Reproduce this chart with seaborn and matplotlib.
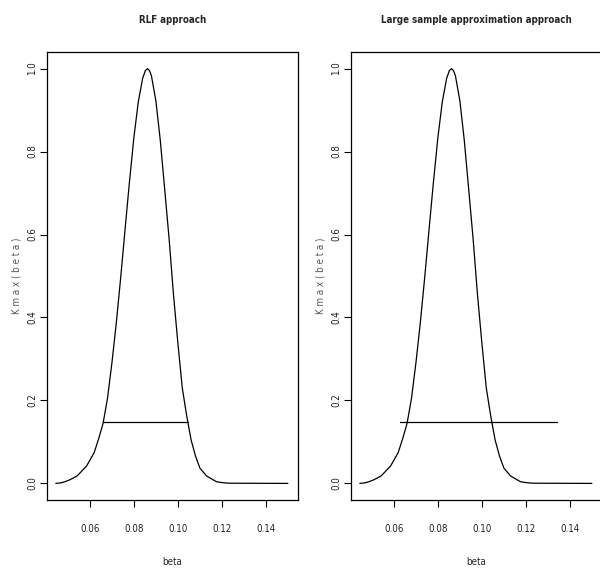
import matplotlib
matplotlib.use("Agg")
import matplotlib.pyplot as plt
import seaborn as sns
import pandas as pd

sns.set_style("white")
plt.rcParams['font.family'] = ['Liberation Sans', 'DejaVu Sans']

# Relative likelihood curve
beta = [0.0445, 0.0465, 0.0486, 0.0510, 0.0542, 0.0585, 0.0600, 0.0620, 0.0640,
        0.0660, 0.0680, 0.0700, 0.0720, 0.0740, 0.0760, 0.0780, 0.0800, 0.0820,
        0.0840, 0.0852, 0.0862, 0.0872, 0.0880, 0.0900, 0.0920, 0.0940, 0.0960,
        0.0980, 0.1000, 0.1020, 0.1040, 0.1060, 0.1080, 0.1100, 0.1130, 0.1176,
        0.1200, 0.1230, 0.1500]
rl = [0.000, 0.001, 0.004, 0.009, 0.018, 0.042, 0.056, 0.075, 0.108,
      0.145, 0.205, 0.290, 0.387, 0.496, 0.613, 0.728, 0.834, 0.920,
      0.977, 0.995, 1.000, 0.994, 0.982, 0.922, 0.827, 0.709, 0.590,
      0.455, 0.338, 0.230, 0.163, 0.105, 0.066, 0.037, 0.018, 0.004,
      0.002, 0.0005, 0.000]

cut_level = 0.147
rlf_interval = [0.0661, 0.1047]
lsa_interval = [0.0629, 0.1340]

titles = ["RLF approach", "Large sample approximation approach"]
intervals = [rlf_interval, lsa_interval]
xticks = [0.06, 0.08, 0.10, 0.12, 0.14]
xticklabels = ["0.06", "0.08", "0.10", "0.12", "0.14"]
yticks = [0.0, 0.2, 0.4, 0.6, 0.8, 1.0]
yticklabels = ["0.0", "0.2", "0.4", "0.6", "0.8", "1.0"]

fig = plt.figure(figsize=(6.0, 5.69), dpi=100)
W, H = 600, 569
positions = [(47, 52, 251, 448), (351, 52, 251, 448)]

curve = pd.DataFrame({"beta": beta, "rl": rl})
cond = dict(family=["DejaVu Sans"], fontstretch="condensed")

for pos, title, iv in zip(positions, titles, intervals):
    x0, y0, w, h = pos
    ax = fig.add_axes([x0 / W, 1 - (y0 + h) / H, w / W, h / H])
    sns.lineplot(data=curve, x="beta", y="rl", ax=ax, color="black",
                 linewidth=0.9, estimator=None, sort=False)
    seg = pd.DataFrame({"beta": iv, "rl": [cut_level, cut_level]})
    sns.lineplot(data=seg, x="beta", y="rl", ax=ax, color="black",
                 linewidth=0.9, estimator=None, sort=False)
    ax.set_xlim(0.0405, 0.1546)
    ax.set_ylim(-0.04, 1.04)
    ax.set_xticks(xticks)
    ax.set_xticklabels(xticklabels, fontsize=7, color="#222222", **cond)
    ax.set_yticks(yticks)
    ax.set_yticklabels(yticklabels, fontsize=7, color="#222222",
                       rotation=90, va="center", **cond)
    ax.tick_params(axis="both", direction="out", length=5, width=0.8,
                   color="black", bottom=True, left=True)
    ax.tick_params(axis="x", pad=12)
    ax.tick_params(axis="y", pad=2)
    for s in ax.spines.values():
        s.set_color("black")
        s.set_linewidth(0.9)
        s.set_visible(True)
    ax.set_xlabel("beta", fontsize=7, color="#222222", labelpad=17, **cond)
    ax.set_ylabel("K m a x ( b e t a )", fontsize=7, color="#555555",
                  labelpad=4, **cond)
    ax.set_title(title, fontsize=7, fontweight="bold", pad=21, **cond)

fig.savefig("out.png", dpi=100)
